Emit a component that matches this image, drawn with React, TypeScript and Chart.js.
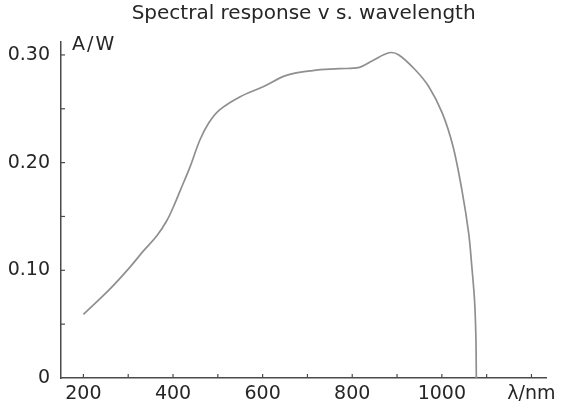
import React, { useEffect, useRef } from 'react';
import { Chart, registerables } from 'chart.js';

Chart.register(...registerables);

const titleText = 'Spectral response v s. wavelength';
const yUnitLabel = 'A/W';

const wavelengths = [200, 260, 304, 334, 364, 386, 401, 416, 438, 460, 480, 504, 549, 601, 653, 712, 771, 816, 845, 882, 904, 941, 971, 1001, 1025, 1045, 1060, 1067, 1073, 1076, 1077];
const response = [0.059, 0.083, 0.103, 0.118, 0.132, 0.146, 0.159, 0.174, 0.196, 0.221, 0.237, 0.249, 0.261, 0.2705, 0.281, 0.2855, 0.2872, 0.2885, 0.2945, 0.302, 0.3, 0.286, 0.2705, 0.246, 0.215, 0.174, 0.134, 0.103, 0.072, 0.038, 0];

const xTickValues = [200, 300, 400, 500, 600, 700, 800, 900, 1000, 1100, 1200];
const xTickLabels = ['200', '', '400', '', '600', '', '800', '', '1000', '', 'λ/nm'];
const yTickValues = [0, 0.05, 0.1, 0.15, 0.2, 0.25, 0.3];
const yTickLabels = ['0', '', '0.10', '', '0.20', '', '0.30'];

const FONT = "'DejaVu Sans', sans-serif";
const AXIS_COLOR = '#4a4a4a';
const TEXT_COLOR = '#262626';

const tickMarksPlugin = {
  id: 'tickMarks',
  afterDraw(chart: any) {
    const { ctx } = chart;
    const xs = chart.scales.x;
    const ys = chart.scales.y;
    ctx.save();
    ctx.strokeStyle = AXIS_COLOR;
    ctx.lineWidth = 1.2;
    xs.ticks.forEach((t: any) => {
      const px = xs.getPixelForValue(t.value);
      ctx.beginPath();
      ctx.moveTo(px, xs.top);
      ctx.lineTo(px, xs.top - 4);
      ctx.stroke();
    });
    ys.ticks.forEach((t: any) => {
      if (t.value === 0) return;
      const py = ys.getPixelForValue(t.value);
      ctx.beginPath();
      ctx.moveTo(ys.right - 1, py);
      ctx.lineTo(ys.right + 4, py);
      ctx.stroke();
    });
    ctx.fillStyle = TEXT_COLOR;
    ctx.font = `19px ${FONT}`;
    (ctx as any).letterSpacing = '2px';
    ctx.textAlign = 'left';
    ctx.textBaseline = 'middle';
    ctx.fillText(yUnitLabel, ys.right + 11, chart.chartArea.top + 3);
    ctx.restore();
  },
};

export default function App() {
  const ref = useRef<HTMLCanvasElement | null>(null);

  useEffect(() => {
    if (!ref.current) return;
    const chart = new Chart(ref.current, {
      type: 'line',
      data: {
        datasets: [
          {
            data: wavelengths.map((w, i) => ({ x: w, y: response[i] })),
            borderColor: '#8f8f8f',
            borderWidth: 1.7,
            pointRadius: 0,
            fill: false,
            tension: 0.35,
          },
        ],
      },
      options: {
        responsive: false,
        animation: false,
        layout: { padding: { left: 0, right: 14, top: 0, bottom: 0 } },
        plugins: {
          legend: { display: false },
          tooltip: { enabled: false },
          title: {
            display: true,
            text: titleText,
            fullSize: false,
            color: TEXT_COLOR,
            font: { family: FONT, size: 20, weight: 'normal', lineHeight: 1.2 },
            padding: { top: 2, bottom: 16 },
          },
        },
        scales: {
          x: {
            type: 'linear',
            min: 150,
            max: 1233,
            afterBuildTicks: (scale: any) => {
              scale.ticks = xTickValues.map((v) => ({ value: v }));
            },
            afterFit: (scale: any) => {
              scale.height = 28;
            },
            grid: { display: false, drawTicks: false },
            border: { display: true, color: AXIS_COLOR, width: 1.5 },
            ticks: {
              autoSkip: false,
              maxRotation: 0,
              padding: 5,
              color: TEXT_COLOR,
              font: { family: FONT, size: 19 },
              callback: (_v: any, i: number) => xTickLabels[i],
            },
          },
          y: {
            type: 'linear',
            min: 0,
            max: 0.312,
            afterBuildTicks: (scale: any) => {
              scale.ticks = yTickValues.map((v) => ({ value: v }));
            },
            afterFit: (scale: any) => {
              scale.width = 61;
            },
            grid: { display: false, drawTicks: false },
            border: { display: true, color: AXIS_COLOR, width: 1.5 },
            ticks: {
              autoSkip: false,
              padding: 11,
              color: TEXT_COLOR,
              font: { family: FONT, size: 19 },
              callback: (_v: any, i: number) => yTickLabels[i],
            },
          },
        },
      },
      plugins: [tickMarksPlugin],
    } as any);
    return () => chart.destroy();
  }, []);

  return (
    <div style={{ position: 'fixed', left: 0, top: 0, width: 561, height: 406, background: '#fff' }}>
      <canvas ref={ref} width={561} height={406} />
    </div>
  );
}
